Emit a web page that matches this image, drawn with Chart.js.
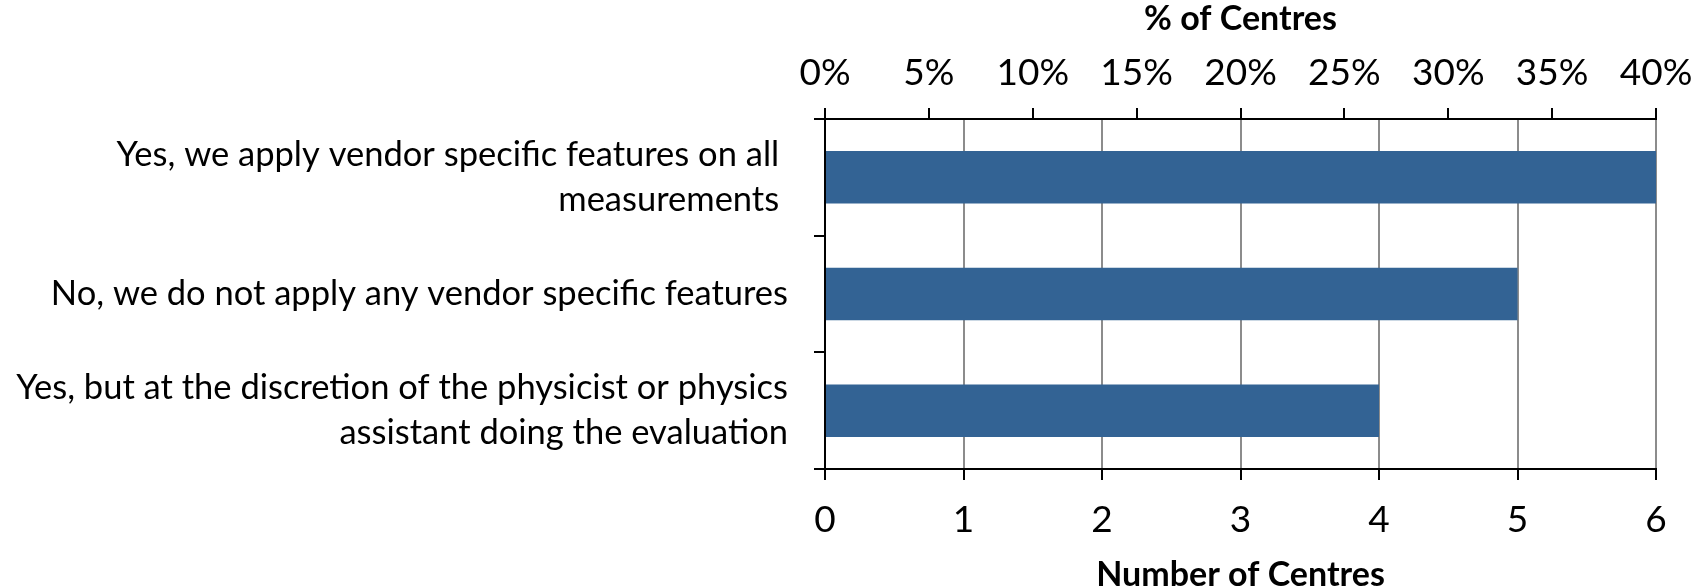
<!DOCTYPE html>
<html>
<head>
<meta charset="utf-8">
<script src="https://cdn.jsdelivr.net/npm/chart.js"></script>
<style>
  html, body { margin: 0; padding: 0; background: #fff; }
  #wrap { width: 1696px; height: 587px; }
</style>
</head>
<body>
<div id="wrap"><canvas id="chart" width="1696" height="587"></canvas></div>
<script>
const categories = [
  ["Yes, we apply vendor specific features on all ", "measurements "],
  "No, we do not apply any vendor specific features",
  ["Yes, but at the discretion of the physicist or physics", "assistant doing the evaluation"],
];
const centres = [6, 5, 4];
const pctTicks = ["0%", "5%", "10%", "15%", "20%", "25%", "30%", "35%", "40%"];

const FONT = "Lato";

// keep the plot edges where the reference has them
function fixX(height) {
  return (s) => {
    s.height = height;
    s.paddingLeft = 0;
    s.paddingRight = 40;
  };
}

new Chart(document.getElementById("chart"), {
  type: "bar",
  data: {
    labels: categories,
    datasets: [
      {
        label: "Number of Centres",
        data: centres,
        backgroundColor: "#336394",
        xAxisID: "x",
        barPercentage: 0.45,
        categoryPercentage: 1,
      },
    ],
  },
  options: {
    indexAxis: "y",
    responsive: false,
    animation: false,
    layout: { padding: { top: 0, right: 40, bottom: 0, left: 0 } },
    plugins: { legend: { display: false }, tooltip: { enabled: false } },
    scales: {
      x: {
        position: "bottom",
        min: 0,
        max: 6,
        ticks: { stepSize: 1, color: "#000", padding: 18, font: { family: FONT, size: 37 } },
        grid: { color: "#8c8c8c", lineWidth: 2, tickColor: "#000", tickLength: 11 },
        border: { color: "#000", width: 2 },
        title: {
          display: true,
          text: "Number of Centres",
          color: "#000",
          font: { family: FONT, size: 34, weight: "bold", lineHeight: 1 },
          padding: { top: 0, bottom: -5 },
        },
        afterFit: fixX(118),
      },
      x2: {
        position: "top",
        min: 0,
        max: 40,
        ticks: {
          stepSize: 5,
          color: "#000",
          padding: 13,
          font: { family: FONT, size: 37 },
          callback: (v, i) => pctTicks[i],
        },
        grid: { drawOnChartArea: false, color: "#000", lineWidth: 2, tickLength: 11 },
        border: { color: "#000", width: 2 },
        title: {
          display: true,
          text: "% of Centres",
          color: "#000",
          font: { family: FONT, size: 34, weight: "bold", lineHeight: 1 },
          padding: { top: 2, bottom: 0 },
        },
        afterFit: fixX(119),
      },
      y: {
        ticks: { color: "#000", padding: 26, font: { family: FONT, size: 34.5, lineHeight: 1.3 } },
        grid: { drawOnChartArea: false, color: "#000", lineWidth: 2, tickLength: 11 },
        border: { color: "#000", width: 2 },
        afterFit: (s) => { s.width = 825; },
      },
    },
  },
});
</script>
</body>
</html>
